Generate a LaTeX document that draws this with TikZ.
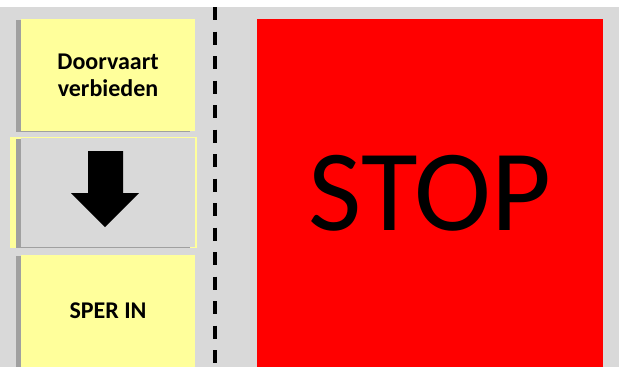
\documentclass[tikz,border=0pt]{standalone}
\usepackage{fontspec}
\setmainfont{Carlito}
\definecolor{panelgray}{RGB}{217,217,217}
\definecolor{noteyellow}{RGB}{255,255,155}
\definecolor{stopred}{RGB}{255,0,0}
\definecolor{shadowgray}{RGB}{160,160,160}
\usetikzlibrary{positioning,shadows}

\begin{document}
\begin{tikzpicture}[x=1pt, y=-1pt,
    note/.style={fill=noteyellow, minimum width=174pt, inner sep=0pt,
      general shadow={shadow xshift=-5pt, shadow yshift=-1pt, fill=shadowgray},
      font=\fontsize{24}{27}\selectfont\bfseries, align=center},
    lane/.style={line width=4pt, dash pattern=on 13pt off 11.5pt}]
        \useasboundingbox (0,0) rectangle (619,367);
        \fill[panelgray] (0,7) rectangle (619,367);

        % left column
        \node (forbid) [note, minimum height=112pt] at (108,75) {Doorvaart\\verbieden};
        \node (arrowback) [fill=noteyellow, minimum width=187pt, minimum height=111pt, inner sep=0pt] at (103.5,192.5) {};
        \node (arrowbox) [note, fill=panelgray, minimum height=109pt] at (108,192.5) {};
        \fill[shift={(arrowbox.center)}] (-20,-41.5) -- (15,-41.5) -- (15,0.5) -- (31,0.5)
          -- (-3,34.5) -- (-37,0.5) -- (-20,0.5) -- cycle;
        \node (sperin) [note, minimum height=112pt] at (108,311) {SPER IN};

        % lane divider
        \coordinate (lanetop) at (215,7);
        \coordinate (lanebottom) at (215,367);
        \draw[lane] (lanetop) -- (lanebottom);

        % stop sign
        \node (stop) [fill=stopred, minimum width=346pt, minimum height=348pt, inner sep=0pt,
          font=\fontsize{116}{120}\selectfont] at (430,193) {STOP};
      \end{tikzpicture}
\end{document}
